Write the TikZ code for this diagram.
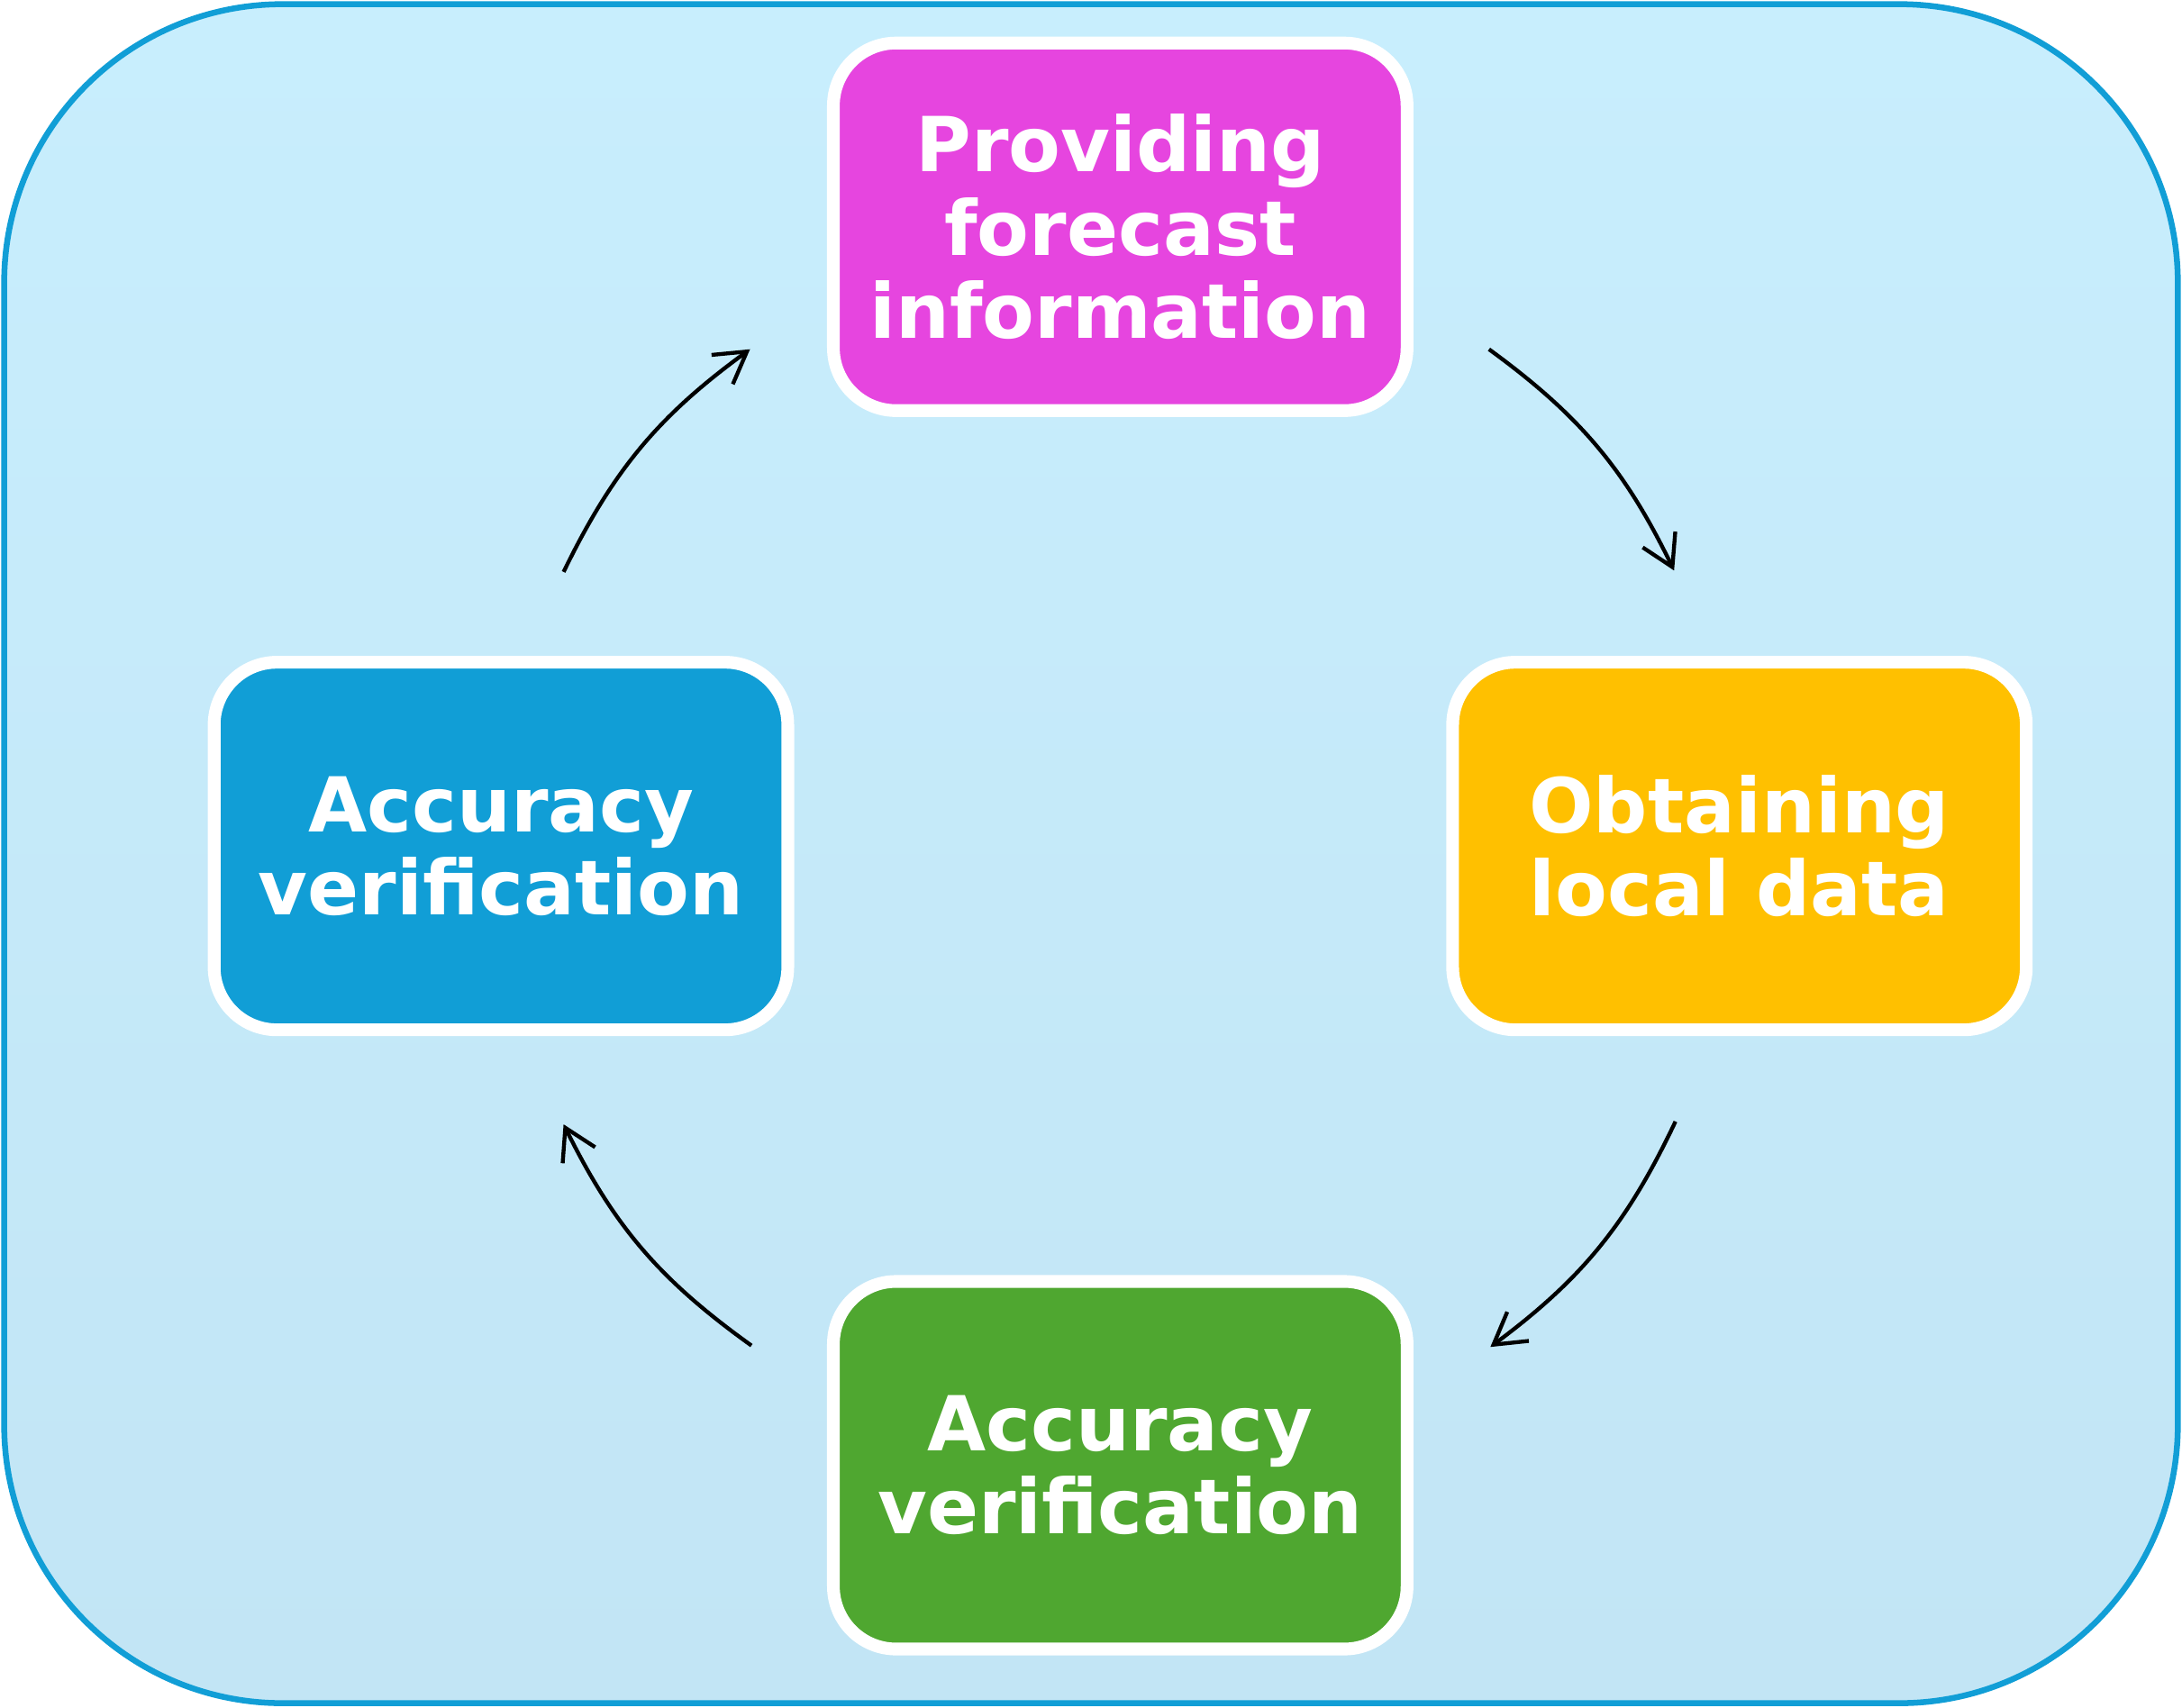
\documentclass[tikz,border=0pt]{standalone}
\usepackage{fontspec}
\setmainfont{DejaVu Sans}
\usetikzlibrary{arrows.meta}
\definecolor{bgtop}{HTML}{C8EEFD}
\definecolor{bgbot}{HTML}{C2E5F5}
\definecolor{frame}{HTML}{119ED6}
\definecolor{pinkbox}{HTML}{E645DF}
\definecolor{orangebox}{HTML}{FFC000}
\definecolor{greenbox}{HTML}{4FA730}
\definecolor{bluebox}{HTML}{119ED6}
\begin{document}
\begin{tikzpicture}[x=0.01cm,y=-0.01cm]
      \tikzstyle{stage}=[draw=white,line width=2.6pt,rounded corners=0.45cm,minimum width=4.12cm,minimum height=2.64cm,align=center,text=white,font=\bfseries\fontsize{15.5}{17}\selectfont]
      \tikzstyle{flow}=[draw,line width=0.8pt,-{Straight Barb[length=2.2mm,width=2.6mm]}]
      \useasboundingbox (0,0) rectangle (1568,1227);
      \path[top color=bgtop,bottom color=bgbot,draw=frame,line width=1.2pt,rounded corners=2cm] (3,3) rectangle (1565,1224);
      \node[stage,fill=pinkbox] (P) at (805,163) {Providing\\forecast\\information};
      \node[stage,fill=orangebox] (O) at (1250,608) {Obtaining\\local data};
      \node[stage,fill=greenbox] (G) at (805,1053) {Accuracy\\verification};
      \node[stage,fill=bluebox] (B) at (360,608) {Accuracy\\verification};
      \coordinate (a1) at (1070,251);
      \coordinate (a2) at (1203,410);
      \coordinate (b1) at (1204,806);
      \coordinate (b2) at (1071,968);
      \coordinate (c1) at (540,967);
      \coordinate (c2) at (405,808);
      \coordinate (d1) at (405,411);
      \coordinate (d2) at (539,251);
      \path[flow] (a1) to[bend left=14] (a2);
      \path[flow] (b1) to[bend left=14] (b2);
      \path[flow] (c1) to[bend left=14] (c2);
      \path[flow] (d1) to[bend left=14] (d2);
    \end{tikzpicture}
\end{document}
